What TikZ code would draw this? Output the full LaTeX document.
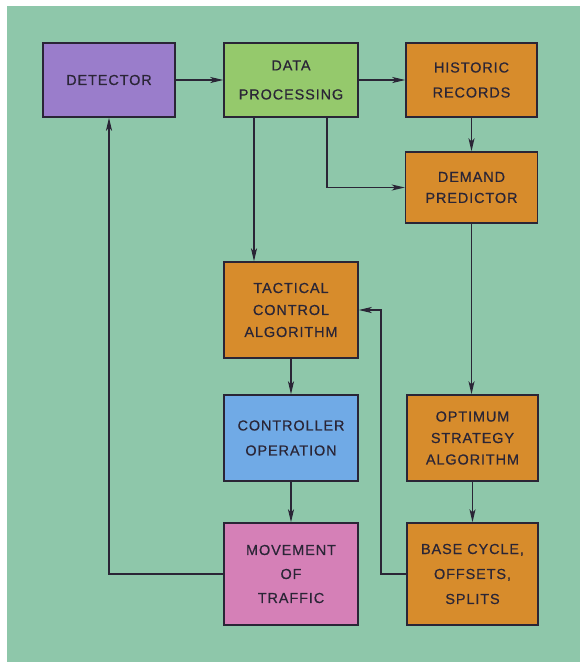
\documentclass[tikz,border=0pt]{standalone}
\usepackage{fontspec}
\setmainfont{Liberation Sans}[LetterSpace=6,FakeBold=0.5]
\usetikzlibrary{arrows.meta}
\definecolor{bggreen}{HTML}{8EC7AA}
\definecolor{cpurple}{HTML}{9A7DCB}
\definecolor{cgreen}{HTML}{95C96C}
\definecolor{corange}{HTML}{D78C2C}
\definecolor{cblue}{HTML}{70AAE6}
\definecolor{cpink}{HTML}{D580B7}
\definecolor{ink}{HTML}{2A2536}
\tikzset{
  box/.style={draw=ink, line width=1.4pt, inner sep=2pt, align=center, text=ink,
    font=\fontsize{14.5}{23}\selectfont},
  arr/.style={draw=ink, line width=1.3pt, -{Stealth[length=13pt,width=6pt,inset=3pt]}},
}
\begin{document}
\begin{tikzpicture}[x=1pt,y=-1pt]
\fill[white] (0,0) rectangle (580,662);
\fill[bggreen] (7,6) rectangle (580,662);
\useasboundingbox (0,0) rectangle (580,662);

\node[box, fill=cpurple, minimum width=132pt, minimum height=74pt] (det) at (109,80) {DETECTOR};
\node[box, fill=cgreen, minimum width=134pt, minimum height=74pt, font=\fontsize{14.5}{29}\selectfont] (dp) at (291,80) {DATA\\PROCESSING};
\node[box, fill=corange, minimum width=131pt, minimum height=74pt, font=\fontsize{14.5}{25}\selectfont] (hist) at (471.5,80) {HISTORIC\\RECORDS};
\node[box, fill=corange, minimum width=132pt, minimum height=71pt, font=\fontsize{14.5}{21}\selectfont] (dem) at (471.5,187.5) {DEMAND\\PREDICTOR};
\node[box, fill=corange, minimum width=134pt, minimum height=96pt, font=\fontsize{14.5}{22}\selectfont] (tac) at (291,310) {TACTICAL\\CONTROL\\ALGORITHM};
\node[box, fill=cblue, minimum width=134pt, minimum height=86pt, font=\fontsize{14.5}{25}\selectfont] (ctrl) at (291,438) {CONTROLLER\\OPERATION};
\node[box, fill=cpink, minimum width=134pt, minimum height=102pt, font=\fontsize{14.5}{24}\selectfont] (move) at (291,574) {MOVEMENT\\OF\\TRAFFIC};
\node[box, fill=corange, minimum width=131pt, minimum height=86pt, font=\fontsize{14.5}{21.5}\selectfont] (opt) at (472.5,438) {OPTIMUM\\STRATEGY\\ALGORITHM};
\node[box, fill=corange, minimum width=131pt, minimum height=102pt, font=\fontsize{14.5}{25}\selectfont] (base) at (472.5,574) {BASE CYCLE,\\OFFSETS,\\SPLITS};

\draw[arr] (det.east) -- (dp.west);
\draw[arr] (dp.east) -- (hist.west);
\draw[arr] (hist.south) -- (dem.north);
\draw[arr] ([xshift=36pt]dp.south) |- (dem.west);
\draw[arr] ([xshift=-37pt]dp.south) -- ([xshift=-37pt]tac.north);
\draw[arr] (tac.south) -- (ctrl.north);
\draw[arr] (ctrl.south) -- (move.north);
\draw[arr] (dem.south) -- (dem.south |- opt.north);
\draw[arr] (opt.south) -- (base.north);
\draw[arr] (move.west) -| (det.south);
\coordinate (fb) at (381,574);
\draw[arr] (base.west) -- (fb) |- (tac.east);
\end{tikzpicture}
\end{document}
